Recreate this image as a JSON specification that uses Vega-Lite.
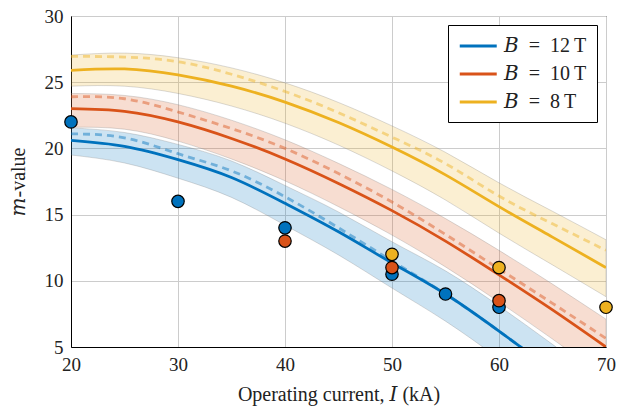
{
  "$schema": "https://vega.github.io/schema/vega-lite/v6.json",
  "width": 535,
  "height": 331,
  "autosize": {"type": "none"},
  "padding": {"left": 71, "top": 16, "right": 12, "bottom": 63},
  "background": "white",
  "config": {
    "view": {"stroke": "black", "strokeWidth": 1},
    "font": "'Liberation Serif', 'DejaVu Serif', serif",
    "axis": {
      "labelFont": "'Liberation Serif', 'DejaVu Serif', serif",
      "labelFontSize": 19,
      "labelColor": "#222",
      "titleFont": "'Liberation Serif', 'DejaVu Serif', serif",
      "titleFontSize": 20,
      "titleFontWeight": "normal",
      "titleColor": "#222",
      "domainColor": "black",
      "domainWidth": 1,
      "ticks": false,
      "gridColor": "#cccccc",
      "gridWidth": 1,
      "labelFlush": false
    },
    "legend": {
      "orient": "top-right",
      "offset": 9,
      "fillColor": "white",
      "strokeColor": "black",
      "strokeWidth": 1,
      "padding": 10,
      "labelFont": "'Liberation Serif', 'DejaVu Serif', serif",
      "labelFontSize": 20,
      "labelColor": "#222",
      "symbolType": "M-1,0H3",
      "symbolSize": 342,
      "symbolStrokeWidth": 3,
      "labelOffset": 24,
      "rowPadding": 7,
      "title": null
    }
  },
  "datasets": {
    "curves": [
      {"I": 20, "B": "𝐵 = 12 T", "m": 20.6, "md": 21.1, "lo": 19.5, "hi": 21.55},
      {"I": 25, "B": "𝐵 = 12 T", "m": 20.15, "md": 20.8, "lo": 18.9, "hi": 21.2},
      {"I": 30, "B": "𝐵 = 12 T", "m": 19.15, "md": 19.6, "lo": 17.75, "hi": 20.3},
      {"I": 35, "B": "𝐵 = 12 T", "m": 17.8, "md": 18.3, "lo": 16.3, "hi": 19.05},
      {"I": 40, "B": "𝐵 = 12 T", "m": 15.85, "md": 16.35, "lo": 14.2, "hi": 17.2},
      {"I": 45, "B": "𝐵 = 12 T", "m": 13.7, "md": 14.0, "lo": 11.95, "hi": 15.2},
      {"I": 50, "B": "𝐵 = 12 T", "m": 11.35, "md": 11.5, "lo": 9.45, "hi": 12.95},
      {"I": 55, "B": "𝐵 = 12 T", "m": 9.0, "md": 9.0, "lo": 6.95, "hi": 10.75},
      {"I": 60, "B": "𝐵 = 12 T", "m": 6.2, "md": 6.2, "lo": 4.1, "hi": 8.1},
      {"I": 65, "B": "𝐵 = 12 T", "m": 3.2, "md": 3.2, "lo": 1.0, "hi": 5.2},
      {"I": 70, "B": "𝐵 = 12 T", "m": 0.0, "md": 0.0, "lo": -2.2, "hi": 2.2},
      {"I": 20, "B": "𝐵 = 10 T", "m": 23.0, "md": 23.9, "lo": 21.6, "hi": 24.15},
      {"I": 25, "B": "𝐵 = 10 T", "m": 22.8, "md": 23.75, "lo": 21.45, "hi": 24.0},
      {"I": 30, "B": "𝐵 = 10 T", "m": 22.0, "md": 22.75, "lo": 20.55, "hi": 23.3},
      {"I": 35, "B": "𝐵 = 10 T", "m": 20.75, "md": 21.5, "lo": 19.2, "hi": 22.13},
      {"I": 40, "B": "𝐵 = 10 T", "m": 19.2, "md": 20.0, "lo": 17.55, "hi": 20.65},
      {"I": 45, "B": "𝐵 = 10 T", "m": 17.35, "md": 18.1, "lo": 15.6, "hi": 18.87},
      {"I": 50, "B": "𝐵 = 10 T", "m": 15.3, "md": 15.95, "lo": 13.45, "hi": 16.9},
      {"I": 55, "B": "𝐵 = 10 T", "m": 13.0, "md": 13.5, "lo": 11.05, "hi": 14.7},
      {"I": 60, "B": "𝐵 = 10 T", "m": 10.45, "md": 10.9, "lo": 8.4, "hi": 12.3},
      {"I": 65, "B": "𝐵 = 10 T", "m": 7.8, "md": 8.3, "lo": 5.6, "hi": 9.75},
      {"I": 70, "B": "𝐵 = 10 T", "m": 5.0, "md": 5.65, "lo": 2.7, "hi": 7.1},
      {"I": 20, "B": "𝐵 = 8 T", "m": 25.9, "md": 26.95, "lo": 24.7, "hi": 27.05},
      {"I": 25, "B": "𝐵 = 8 T", "m": 26.0, "md": 26.9, "lo": 24.7, "hi": 27.2},
      {"I": 30, "B": "𝐵 = 8 T", "m": 25.55, "md": 26.55, "lo": 24.15, "hi": 26.85},
      {"I": 35, "B": "𝐵 = 8 T", "m": 24.7, "md": 25.6, "lo": 23.2, "hi": 26.08},
      {"I": 40, "B": "𝐵 = 8 T", "m": 23.5, "md": 24.3, "lo": 21.9, "hi": 24.95},
      {"I": 45, "B": "𝐵 = 8 T", "m": 21.95, "md": 22.7, "lo": 20.25, "hi": 23.47},
      {"I": 50, "B": "𝐵 = 8 T", "m": 20.1, "md": 20.85, "lo": 18.3, "hi": 21.7},
      {"I": 55, "B": "𝐵 = 8 T", "m": 18.0, "md": 18.85, "lo": 16.1, "hi": 19.7},
      {"I": 60, "B": "𝐵 = 8 T", "m": 15.6, "md": 16.4, "lo": 13.6, "hi": 17.4},
      {"I": 65, "B": "𝐵 = 8 T", "m": 13.3, "md": 14.3, "lo": 11.2, "hi": 15.25},
      {"I": 70, "B": "𝐵 = 8 T", "m": 11.0, "md": 12.3, "lo": 8.8, "hi": 13.1}
    ],
    "points": [
      {"I": 20, "B": "𝐵 = 12 T", "m": 22},
      {"I": 30, "B": "𝐵 = 12 T", "m": 16},
      {"I": 40, "B": "𝐵 = 12 T", "m": 14},
      {"I": 50, "B": "𝐵 = 12 T", "m": 10.5},
      {"I": 55, "B": "𝐵 = 12 T", "m": 9},
      {"I": 60, "B": "𝐵 = 12 T", "m": 8},
      {"I": 40, "B": "𝐵 = 10 T", "m": 13},
      {"I": 50, "B": "𝐵 = 10 T", "m": 11},
      {"I": 60, "B": "𝐵 = 10 T", "m": 8.5},
      {"I": 50, "B": "𝐵 = 8 T", "m": 12},
      {"I": 60, "B": "𝐵 = 8 T", "m": 11},
      {"I": 70, "B": "𝐵 = 8 T", "m": 8}
    ]
  },
  "resolve": {"legend": {"color": "independent"}},
  "layer": [
    {
      "data": {"name": "curves"},
      "mark": {"type": "area", "interpolate": "natural", "clip": true, "fillOpacity": 0.2, "stroke": "#777", "strokeWidth": 0.6, "strokeOpacity": 0.45},
      "encoding": {
        "x": {"field": "I", "type": "quantitative", "scale": {"domain": [20, 70], "nice": false, "zero": false},
              "axis": {"values": [20, 30, 40, 50, 60, 70], "title": "Operating current, 𝐼 (kA)", "labelPadding": 8, "titlePadding": 10}},
        "y": {"field": "lo", "type": "quantitative", "scale": {"domain": [5, 30], "nice": false, "zero": false},
              "axis": {"values": [5, 10, 15, 20, 25, 30], "title": "𝑚-value", "labelPadding": 8, "titlePadding": 16}},
        "y2": {"field": "hi"},
        "color": {"field": "B", "type": "nominal", "scale": {"domain": ["𝐵 = 12 T", "𝐵 = 10 T", "𝐵 = 8 T"], "range": ["#0072BD", "#D95319", "#EDB120"]}, "legend": null},
        "detail": {"field": "B"}
      }
    },
    {
      "data": {"name": "curves"},
      "mark": {"type": "line", "interpolate": "natural", "clip": true, "strokeWidth": 2.8, "strokeDash": [7, 5], "opacity": 0.45},
      "encoding": {
        "x": {"field": "I", "type": "quantitative"},
        "y": {"field": "md", "type": "quantitative"},
        "color": {"field": "B", "type": "nominal", "legend": null}
      }
    },
    {
      "data": {"name": "curves"},
      "mark": {"type": "line", "interpolate": "natural", "clip": true, "strokeWidth": 2.8},
      "encoding": {
        "x": {"field": "I", "type": "quantitative"},
        "y": {"field": "m", "type": "quantitative"},
        "color": {"field": "B", "type": "nominal", "legend": {"orient": "top-right", "labelExpr": "replace(replace(datum.label, ' = ', '\u2002=\u2002'), ' T', '\u2009T')"}}
      }
    },
    {
      "data": {"name": "points"},
      "mark": {"type": "point", "filled": true, "opacity": 1, "size": 155, "stroke": "black", "strokeWidth": 1.2},
      "encoding": {
        "x": {"field": "I", "type": "quantitative"},
        "y": {"field": "m", "type": "quantitative"},
        "color": {"field": "B", "type": "nominal", "legend": null}
      }
    }
  ]
}
